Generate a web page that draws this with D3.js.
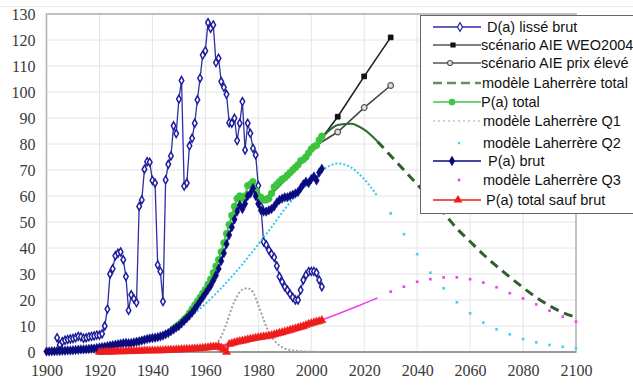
<!DOCTYPE html>
<html>
<head>
<meta charset="utf-8">
<script src="https://cdn.jsdelivr.net/npm/d3@7"></script>
<style>
  body { margin: 0; background: #fff; }
  svg { display: block; }
</style>
</head>
<body>
<div id="chart"></div>
<script>
// demande lissée brut, 1904-2004
const dYears = d3.range(1904, 2005);
const dValues = [
  5.5, 2.7, 4, 4.5, 4.8, 5, 5.2, 5.5, 6, 5.8,
  5.3, 5.5, 5.8, 6, 6.2, 6.5, 6.5, 7, 10, 16.5,
  30, 32, 37, 38, 38.5, 35.5, 29, 16, 22, 20.5,
  19, 56, 58.5, 70.3, 73.2, 73, 66, 65, 33.5, 31,
  19.4, 66.2, 72.2, 75.4, 87, 84, 97.3, 104.4, 63.8, 65,
  79.3, 82.2, 88, 97, 105.3, 114.2, 115.8, 126.7, 124.5, 125.8,
  111.3, 113, 104, 101.8, 99.1, 88.2, 88, 89.9, 81.3, 88,
  96.3, 77.7, 88, 84.1, 78.3, 75.8, 64, 56, 42.4, 41.2,
  39.2, 37.7, 36.4, 33.1, 29, 27, 25.1, 23.8, 22.3, 21,
  20, 20, 23.8, 27.7, 29.6, 30.9, 31, 31, 30.5, 27.7,
  25.1
];

// scénarios AIE
const aieYears = [2002, 2010, 2020, 2030];
const aieWeo = [79.5, 90.5, 106, 121];
const aieHigh = [79.5, 84.6, 94, 102.5];

// modèle Laherrère total
const totYears = d3.range(1980, 2101, 5);
const totValues = [58, 61, 66, 72, 78, 83.5, 87.3, 87.8, 85.5, 81, 75.5, 70, 64.5,
  59, 53.5, 47.5, 42.5, 37.5, 33, 28.8, 24.8, 21, 17.8, 15.2, 13.3];

// P(a) total, 1948-2004
const pTotYears = d3.range(1948, 2005);
const pTotValues = [
  9, 9.7, 10.5, 11.5, 12.5, 13.5, 15, 16.5, 18, 19.5,
  21, 22.5, 24, 26, 28, 30.5, 33, 35.5, 38.5, 42,
  45.5, 49, 52.5, 56, 59, 60, 59, 60, 64, 64.5,
  65.5, 62, 60, 59.5, 58.5, 58.5, 59, 61, 63.5, 64.5,
  65.5, 66.5, 67, 68, 69, 70, 71, 72, 73.5, 74,
  75, 76.5, 78, 79, 79.5, 81.5, 83
];

// modèle Laherrère Q1
const q1Years = [1960, 1962, 1964, 1966, 1968, 1970, 1972, 1974, 1976, 1978, 1980,
  1982, 1984, 1986, 1988, 1990, 1992, 1994, 1996, 1998, 2000, 2004];
const q1Values = [0.5, 1.5, 3, 6, 11, 17, 21.5, 24, 24.5, 23, 18,
  12.5, 7.5, 4.5, 2.5, 1.3, 0.8, 0.5, 0.3, 0.2, 0.1, 0];

// modèle Laherrère Q2
const q2Years = d3.range(1950, 2101, 5);
const q2Values = [9.5, 14, 18.5, 23.5, 29, 35, 41.5, 48, 55, 61, 66, 70.5, 72.5, 71, 66.5, 60,
  53.3, 45.3, 37.6, 30.5, 24.5, 19.1, 14.9, 11.3, 8.7, 6.8, 5, 3.7, 2.7, 2, 1.4];

// P(a) brut, 1900-2004
const pBrutYears = d3.range(1900, 2005);
const pBrutValues = [
  0.2, 0.2, 0.3, 0.3, 0.4, 0.4, 0.5, 0.5, 0.6, 0.6,
  0.7, 0.8, 0.9, 1, 1, 1.1, 1.2, 1.3, 1.3, 1.5,
  1.7, 1.9, 2, 2.2, 2.4, 2.6, 2.8, 3, 3.2, 3.4,
  3.5, 3.4, 3.5, 3.7, 3.9, 4.1, 4.4, 4.7, 5, 5.2,
  5.4, 5.5, 5.7, 6, 6.3, 6.8, 7.3, 8, 8.7, 9.4,
  10, 11, 12, 13, 14, 15.2, 16.5, 18, 19.5, 21,
  22.5, 24, 25.5, 27.5, 29.5, 32, 35, 38, 41.5, 45,
  48, 51, 54, 56.5, 55, 57, 60, 61, 63, 60,
  57, 54.5, 54, 54, 54.5, 55, 56, 57.5, 58.5, 59,
  59.5, 59.5, 60, 60.5, 61, 61.5, 63, 64.5, 65.5, 65,
  66.5, 67.5, 66, 69, 70.5
];

// modèle Laherrère Q3
const q3Years = [1920, 1930, 1940, 1950, 1955, 1960, 1965, 1970, 1975, 1980, 1985, 1990, 1995,
  2000, 2005, 2010, 2015, 2020, 2025, 2030, 2035, 2040, 2045, 2050, 2055, 2060, 2065, 2070,
  2075, 2080, 2085, 2090, 2095, 2100];
const q3Values = [0, 0.2, 0.5, 1, 1.3, 1.8, 2.5, 3.4, 4.4, 5.4, 6.5, 7.8, 9.3,
  11, 12.7, 14.6, 16.6, 18.7, 20.8, 23.2, 25.1, 27, 28, 28.7, 28.7, 28, 26.7, 24.9,
  22.6, 20.6, 18.3, 15.9, 13.6, 11.7];

// P(a) total sauf brut, 1920-2004
const pAutreYears = d3.range(1920, 2005);
const pAutreValues = [
  0, 0, 0.1, 0.1, 0.1, 0.1, 0.2, 0.2, 0.2, 0.2,
  0.3, 0.3, 0.3, 0.3, 0.4, 0.4, 0.4, 0.5, 0.5, 0.5,
  0.5, 0.5, 0.6, 0.6, 0.6, 0.7, 0.7, 0.8, 0.8, 0.9,
  0.9, 1, 1, 1.1, 1.1, 1.2, 1.3, 1.3, 1.4, 1.5,
  1.6, 1.7, 1.9, 2, 2, 2.2, 1.6, 1, 0, 3,
  3.3, 3.6, 3.9, 4.1, 4.3, 4.5, 4.8, 5, 5.2, 5.4,
  5.6, 5.7, 5.9, 6, 6.2, 6.4, 6.7, 7, 7.3, 7.5,
  7.8, 8.1, 8.4, 8.7, 9, 9.3, 9.6, 9.9, 10.3, 10.7,
  11, 11.3, 11.6, 11.8, 12.2
];

const xTicks = d3.range(1900, 2101, 20);
const yTicks = d3.range(0, 131, 10);

const legendLabels = [
  'D(a) lissé brut',
  'scénario AIE WEO2004',
  'scénario AIE prix élevé',
  'modèle Laherrère total',
  'P(a) total',
  'modèle Laherrère Q1',
  'modèle Laherrère Q2',
  'P(a) brut',
  'modèle Laherrère Q3',
  'P(a) total sauf brut'
];

const width = 633;
const height = 385;
const margin = {top: 14, right: 57, bottom: 33, left: 46.5};

const zip = (xs, vs) => xs.map((x, i) => ({x: x, v: vs[i]}));

const svg = d3.select('#chart')
  .append('svg')
  .attr('width', width)
  .attr('height', height);

const x = d3.scaleLinear()
  .domain([1900, 2100])
  .range([margin.left, width - margin.right]);

const y = d3.scaleLinear()
  .domain([0, 130])
  .range([height - margin.bottom, margin.top]);

// faint frame of the original image
svg.append('line')
  .attr('x1', 0).attr('x2', width)
  .attr('y1', 6.5).attr('y2', 6.5)
  .attr('stroke', '#eee');

// grid
svg.append('g')
  .selectAll('line')
  .data(yTicks.slice(1))
  .join('line')
  .attr('x1', x(1900)).attr('x2', x(2100))
  .attr('y1', d => y(d)).attr('y2', d => y(d))
  .attr('stroke', '#e4e4e4');

svg.append('g')
  .selectAll('line')
  .data(xTicks.slice(1, -1))
  .join('line')
  .attr('x1', d => x(d)).attr('x2', d => x(d))
  .attr('y1', y(0)).attr('y2', y(130))
  .attr('stroke', '#e4e4e4');

// plot frame
svg.append('rect')
  .attr('x', x(1900)).attr('y', y(130))
  .attr('width', x(2100) - x(1900))
  .attr('height', y(0) - y(130))
  .attr('fill', 'none')
  .attr('stroke', '#b0b0b0')
  .attr('stroke-width', 1.5);

svg.append('line')
  .attr('x1', x(1900)).attr('x2', x(2100))
  .attr('y1', y(0)).attr('y2', y(0))
  .attr('stroke', '#999')
  .attr('stroke-width', 2);

const xAxis = g => g
  .attr('transform', `translate(0,${y(0)})`)
  .call(d3.axisBottom(x).tickValues(xTicks).tickFormat(d3.format('d')).tickSize(0).tickPadding(13))
  .call(h => h.select('.domain').remove());

const yAxis = g => g
  .attr('transform', `translate(${x(1900)},0)`)
  .call(d3.axisLeft(y).tickValues(yTicks).tickSize(0).tickPadding(11))
  .call(h => h.select('.domain').remove());

svg.append('g').call(xAxis)
  .attr('font-family', 'Liberation Serif')
  .attr('font-size', 16)
  .attr('fill', '#3a3a3a');
svg.append('g').call(yAxis)
  .attr('font-family', 'Liberation Serif')
  .attr('font-size', 16)
  .attr('fill', '#3a3a3a');
svg.selectAll('.tick text').attr('fill', '#3a3a3a');

const line = d3.line()
  .x(d => x(d.x))
  .y(d => y(d.v));

const smooth = d3.line()
  .curve(d3.curveMonotoneX)
  .x(d => x(d.x))
  .y(d => y(d.v));

const plot = svg.append('g');

function drawSymbols(data, type, size, fill, stroke, sw) {
  plot.append('g')
    .selectAll('path')
    .data(data)
    .join('path')
    .attr('transform', d => `translate(${x(d.x)},${y(d.v)})`)
    .attr('d', d3.symbol().type(type).size(size))
    .attr('fill', fill)
    .attr('stroke', stroke)
    .attr('stroke-width', sw);
}

// D(a) lissé brut
const dData = zip(dYears, dValues);
plot.append('path')
  .datum(dData)
  .attr('fill', 'none')
  .attr('stroke', '#2e2ea8')
  .attr('stroke-width', 1.3)
  .attr('d', line);
drawSymbols(dData, d3.symbolDiamond, 18, '#fff', '#1f1f9c', 1.5);

// scénarios AIE
const weoData = zip(aieYears, aieWeo);
const highData = zip(aieYears, aieHigh);
plot.append('path')
  .datum(highData)
  .attr('fill', 'none')
  .attr('stroke', '#444')
  .attr('stroke-width', 1.6)
  .attr('d', line);
drawSymbols(highData.slice(1), d3.symbolCircle, 26, '#ddd', '#555', 1.2);
plot.append('path')
  .datum(weoData)
  .attr('fill', 'none')
  .attr('stroke', '#222')
  .attr('stroke-width', 1.6)
  .attr('d', line);
drawSymbols(weoData.slice(1), d3.symbolSquare, 22, '#111', '#111', 1);

// modèle Laherrère total
const totData = zip(totYears, totValues);
plot.append('path')
  .datum(totData.filter(d => d.x <= 2025))
  .attr('fill', 'none')
  .attr('stroke', '#2f6b2f')
  .attr('stroke-width', 2)
  .attr('d', smooth);
plot.append('path')
  .datum(totData.filter(d => d.x >= 2025))
  .attr('fill', 'none')
  .attr('stroke', '#2f5f2f')
  .attr('stroke-width', 3)
  .attr('stroke-dasharray', '9,6')
  .attr('d', smooth);

// P(a) total
const pTotData = zip(pTotYears, pTotValues);
plot.append('path')
  .datum(pTotData)
  .attr('fill', 'none')
  .attr('stroke', '#3cc43c')
  .attr('stroke-width', 2)
  .attr('d', line);
drawSymbols(pTotData, d3.symbolCircle, 36, '#3cc43c', '#3cc43c', 0.5);

// modèle Laherrère Q1
plot.append('path')
  .datum(zip(q1Years, q1Values))
  .attr('fill', 'none')
  .attr('stroke', '#a0a0a0')
  .attr('stroke-width', 2)
  .attr('stroke-dasharray', '2,2')
  .attr('d', smooth);

// modèle Laherrère Q2
const q2Data = zip(q2Years, q2Values);
plot.append('path')
  .datum(q2Data.filter(d => d.x <= 2025))
  .attr('fill', 'none')
  .attr('stroke', '#33c8ec')
  .attr('stroke-width', 2)
  .attr('stroke-dasharray', '2,2')
  .attr('d', smooth);
drawSymbols(q2Data.filter(d => d.x > 2025), d3.symbolSquare, 7, '#48d0f0', 'none', 0);

// P(a) brut
const pBrutData = zip(pBrutYears, pBrutValues);
plot.append('path')
  .datum(pBrutData)
  .attr('fill', 'none')
  .attr('stroke', '#0a0a80')
  .attr('stroke-width', 1.5)
  .attr('d', line);
drawSymbols(pBrutData, d3.symbolDiamond, 26, '#0a0a80', '#0a0a80', 0.5);

// modèle Laherrère Q3
const q3Data = zip(q3Years, q3Values);
plot.append('path')
  .datum(q3Data.filter(d => d.x <= 2025))
  .attr('fill', 'none')
  .attr('stroke', '#f040f0')
  .attr('stroke-width', 1.6)
  .attr('d', smooth);
drawSymbols(q3Data.filter(d => d.x > 2025), d3.symbolSquare, 7, '#f040f0', 'none', 0);

// P(a) total sauf brut
const pAutreData = zip(pAutreYears, pAutreValues);
plot.append('path')
  .datum(pAutreData)
  .attr('fill', 'none')
  .attr('stroke', '#ee1c1c')
  .attr('stroke-width', 2)
  .attr('d', line);
drawSymbols(pAutreData, d3.symbolTriangle, 30, '#ee1c1c', '#ee1c1c', 0.5);

// legend
const legend = svg.append('g');
legend.append('rect')
  .attr('x', 420.5).attr('y', 15.5)
  .attr('width', 240).attr('height', 198)
  .attr('fill', '#fff')
  .attr('stroke', '#666')
  .attr('stroke-width', 1);

const rowY = [27, 45, 63, 83, 102, 121, 143, 161, 180, 200];
const textX = [487, 481, 481, 482, 481, 483, 483, 488, 483, 486];

legendLabels.forEach((label, i) => {
  const ly = rowY[i];
  const g = legend.append('g');
  const sample = (stroke, sw, dash) => g.append('line')
    .attr('x1', 433).attr('x2', 481)
    .attr('y1', ly).attr('y2', ly)
    .attr('stroke', stroke)
    .attr('stroke-width', sw)
    .attr('stroke-dasharray', dash);
  const mark = (type, size, cx, fill, stroke) => g.append('path')
    .attr('transform', `translate(${cx},${ly})`)
    .attr('d', d3.symbol().type(type).size(size))
    .attr('fill', fill)
    .attr('stroke', stroke)
    .attr('stroke-width', 1.2);

  if (i === 0) { sample('#2e2ea8', 1.3); mark(d3.symbolDiamond, 22, 460, '#fff', '#2424a0'); }
  if (i === 1) { sample('#555', 1.6); mark(d3.symbolSquare, 16, 453, '#111', '#111'); }
  if (i === 2) { sample('#555', 1.6); mark(d3.symbolCircle, 20, 450, '#ddd', '#555'); }
  if (i === 3) { sample('#6a8a6a', 2.5, '9,5'); }
  if (i === 4) { sample('#44c444', 1.5); mark(d3.symbolCircle, 24, 452, '#44c444', '#44c444'); }
  if (i === 5) { sample('#c4c4c4', 1.5, '2,3'); }
  if (i === 6) { mark(d3.symbolSquare, 6, 459, '#48d0f0', 'none'); }
  if (i === 7) { sample('#0a0a80', 1.5); mark(d3.symbolDiamond, 20, 452, '#0a0a80', '#0a0a80'); }
  if (i === 8) { mark(d3.symbolSquare, 7, 459, '#f040f0', 'none'); }
  if (i === 9) { sample('#ee1c1c', 1.5); mark(d3.symbolTriangle, 20, 458, '#ee1c1c', '#ee1c1c'); }

  g.append('text')
    .attr('x', textX[i])
    .attr('y', ly)
    .attr('dy', '0.35em')
    .attr('font-family', '"Liberation Sans", Arial, sans-serif')
    .attr('font-size', 14.5)
    .attr('fill', '#111')
    .text(label);
});
</script>
</body>
</html>
